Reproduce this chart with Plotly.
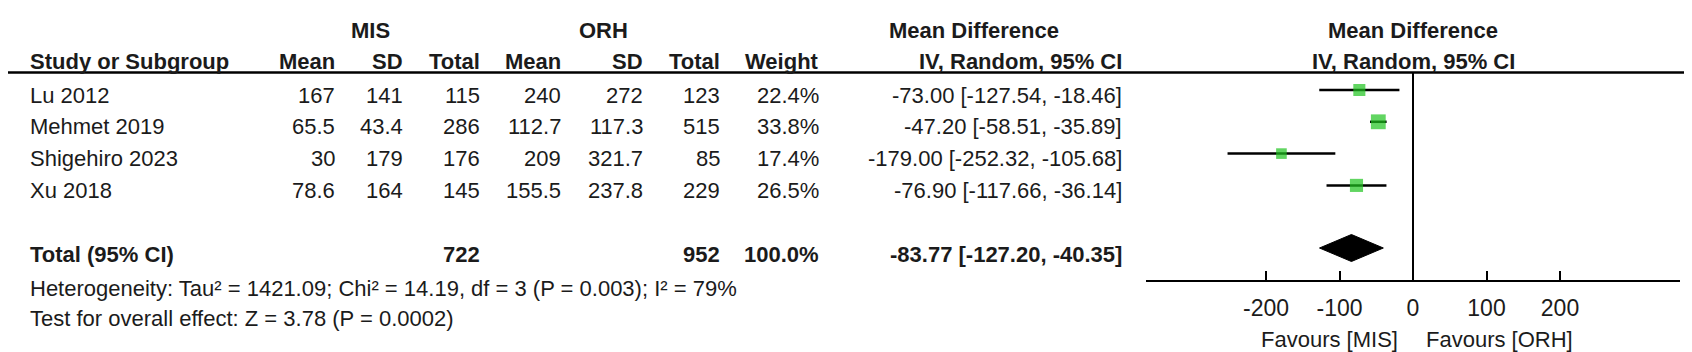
import plotly.graph_objects as go
import math

# ---------------- data ----------------
studies = ["Lu 2012", "Mehmet 2019", "Shigehiro 2023", "Xu 2018"]
mis_mean = [167, 65.5, 30, 78.6]
mis_sd = [141, 43.4, 179, 164]
mis_total = [115, 286, 176, 145]
orh_mean = [240, 112.7, 209, 155.5]
orh_sd = [272, 117.3, 321.7, 237.8]
orh_total = [123, 515, 85, 229]
weights = [22.4, 33.8, 17.4, 26.5]
md = [-73.00, -47.20, -179.00, -76.90]
ci_low = [-127.54, -58.51, -252.32, -117.66]
ci_high = [-18.46, -35.89, -105.68, -36.14]

total_mis = 722
total_orh = 952
total_weight = 100.0
total_md = -83.77
total_low = -127.20
total_high = -40.35

heterogeneity = "Heterogeneity: Tau² = 1421.09; Chi² = 14.19, df = 3 (P = 0.003); I² = 79%"
overall = "Test for overall effect: Z = 3.78 (P = 0.0002)"

tick_vals = [-200, -100, 0, 100, 200]
favours_left = "Favours [MIS]"
favours_right = "Favours [ORH]"

# ---------------- layout constants (pixels) ----------------
W, H = 1692, 352
FONT = "Liberation Sans, Arial, sans-serif"
TXT = "#1b1b1b"
FS = 22
GREEN = "#1ec31e"

row_text_y0 = 87.0      # first study row text centre
row_h = 31.8
marker_shift = -5.0     # markers sit slightly above text centre
header1_y = 22
header2_y = 53
underline_y = 64.5
axis_y = 273
plot_left, plot_right = 1138, 1672
zero_px = 1405
xr = (plot_right - plot_left) / 2 / 0.735

col = dict(name=20, mis_mean=329, mis_sd=397, mis_total=474, orh_mean=555,
           orh_sd=637, orh_total=714, weight=813, ci=1116)

fig = go.Figure()

def fmt(v):
    return f"{v:g}"

ann = []
def add_text(x_px, y, text, anchor="right", bold=False, size=FS):
    if bold:
        text = f"<b>{text}</b>"
    ann.append(dict(x=x_px / W, y=y, xref="paper", yref="y", text=text,
                    showarrow=False, xanchor=anchor, yanchor="middle",
                    font=dict(family=FONT, size=size, color=TXT)))

# headers
add_text(362, header1_y, "MIS", "center", True)
add_text(595, header1_y, "ORH", "center", True)
add_text(966, header1_y, "Mean Difference", "center", True)
add_text(zero_px, header1_y, "Mean Difference", "center", True)
add_text(col["name"], header2_y, "Study or Subgroup", "left", True)
add_text(col["mis_mean"], header2_y, "Mean", "right", True)
add_text(col["mis_sd"], header2_y, "SD", "right", True)
add_text(col["mis_total"], header2_y, "Total", "right", True)
add_text(col["orh_mean"], header2_y, "Mean", "right", True)
add_text(col["orh_sd"], header2_y, "SD", "right", True)
add_text(col["orh_total"], header2_y, "Total", "right", True)
add_text(col["weight"], header2_y, "Weight", "right", True)
add_text(col["ci"], header2_y, "IV, Random, 95% CI", "right", True)
add_text(zero_px, header2_y, "IV, Random, 95% CI", "center", True)

# study rows
row_y = [row_text_y0 + i * row_h for i in range(len(studies))]
for i, s in enumerate(studies):
    y = row_y[i]
    add_text(col["name"], y, s, "left")
    add_text(col["mis_mean"], y, fmt(mis_mean[i]))
    add_text(col["mis_sd"], y, fmt(mis_sd[i]))
    add_text(col["mis_total"], y, fmt(mis_total[i]))
    add_text(col["orh_mean"], y, fmt(orh_mean[i]))
    add_text(col["orh_sd"], y, fmt(orh_sd[i]))
    add_text(col["orh_total"], y, fmt(orh_total[i]))
    add_text(col["weight"], y, f"{weights[i]:.1f}%")
    add_text(col["ci"], y, f"{md[i]:.2f} [{ci_low[i]:.2f}, {ci_high[i]:.2f}]")

total_y = row_text_y0 + (len(studies) + 1) * row_h
add_text(col["name"], total_y, "Total (95% CI)", "left", True)
add_text(col["mis_total"], total_y, str(total_mis), "right", True)
add_text(col["orh_total"], total_y, str(total_orh), "right", True)
add_text(col["weight"], total_y, f"{total_weight:.1f}%", "right", True)
add_text(col["ci"], total_y, f"{total_md:.2f} [{total_low:.2f}, {total_high:.2f}]", "right", True)
add_text(col["name"], total_y + 34, heterogeneity, "left")
add_text(col["name"], total_y + 64, overall, "left")

add_text(1392, 331, favours_left, "right")
add_text(1416, 331, favours_right, "left")

# CI lines
for i in range(len(studies)):
    ym = row_y[i] + marker_shift
    fig.add_trace(go.Scatter(x=[ci_low[i], ci_high[i]], y=[ym, ym], mode="lines",
                             line=dict(color="black", width=2.5), hoverinfo="skip",
                             showlegend=False))
# squares
fig.add_trace(go.Scatter(
    x=md, y=[y + marker_shift for y in row_y], mode="markers",
    marker=dict(symbol="square", color=GREEN, size=[2.55 * math.sqrt(w) for w in weights],
                line=dict(width=0)),
    showlegend=False, hoverinfo="skip"))

# diamond
dy = total_y + marker_shift - 1
half_h = 13.5
fig.add_trace(go.Scatter(
    x=[total_low, total_md, total_high, total_md, total_low],
    y=[dy, dy - half_h, dy, dy + half_h, dy],
    mode="lines", fill="toself", fillcolor="black",
    line=dict(color="black", width=1), showlegend=False, hoverinfo="skip"))

shapes = [
    dict(type="line", xref="paper", yref="y", x0=0, x1=1, y0=underline_y, y1=underline_y,
         line=dict(color="black", width=2.5)),
    dict(type="line", xref="x", yref="y", x0=0, x1=0, y0=underline_y, y1=axis_y,
         line=dict(color="black", width=2)),
]

fig.update_layout(
    width=W, height=H, autosize=False,
    margin=dict(l=0, r=0, t=0, b=0),
    paper_bgcolor="white", plot_bgcolor="white",
    annotations=ann, shapes=shapes,
    xaxis=dict(domain=[plot_left / W, plot_right / W], range=[-xr, xr],
               anchor="free", position=1 - axis_y / H,
               showline=True, linecolor="black", linewidth=2,
               ticks="inside", ticklen=9, tickwidth=2, tickcolor="black",
               tickvals=tick_vals, ticktext=[str(v) for v in tick_vals],
               tickfont=dict(family=FONT, size=23, color=TXT),
               ticklabelstandoff=6,
               showgrid=False, zeroline=False, fixedrange=True),
    yaxis=dict(domain=[0, 1], range=[H, 0], visible=False, showgrid=False,
               zeroline=False, fixedrange=True),
)

fig.write_html("out.html")
